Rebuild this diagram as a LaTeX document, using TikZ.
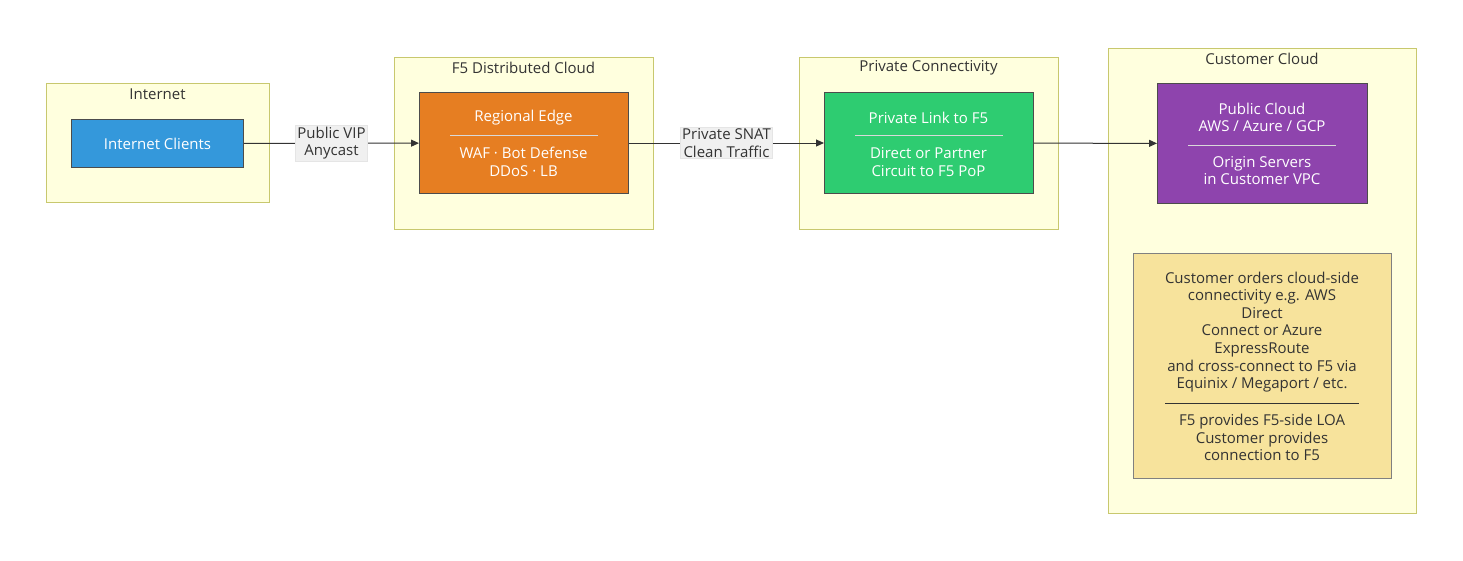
\documentclass[tikz,border=0pt]{standalone}
\usepackage{fontspec}
\setmainfont{Open Sans}
\usetikzlibrary{arrows.meta}

\definecolor{clusterfill}{HTML}{FFFFDE}
\definecolor{clusterline}{HTML}{C8C86E}
\definecolor{inkgray}{HTML}{333333}
\definecolor{clientblue}{HTML}{3498DB}
\definecolor{edgeorange}{HTML}{E67E22}
\definecolor{linkgreen}{HTML}{2ECC71}
\definecolor{cloudpurple}{HTML}{8E44AD}
\definecolor{notegold}{HTML}{F7E39C}

\tikzset{
	cluster/.style = {draw = clusterline, fill = clusterfill, line width = 1.2pt, anchor = north west, inner sep = 0pt},
	title/.style = {text = inkgray, inner sep = 0pt},
	box/.style = {draw = black!70, line width = 1pt, anchor = north west, inner sep = 0pt, text = white, align = center},
	boxtext/.style = {text = white, inner sep = 0pt, align = center},
	sepline/.style = {draw = white!85!black, line width = 1pt},
	flow/.style = {draw = inkgray, line width = 1pt, -{Triangle[length = 8pt, width = 7pt]}},
	elabel/.style = {fill = black!6, draw = black!10, text = inkgray, align = center, inner sep = 1.5pt}
}

\begin{document}
\begin{tikzpicture}[x = 1pt, y = -1pt, font = \fontsize{15pt}{17.6pt}\selectfont]
	\useasboundingbox (0,0) rectangle (1463,560);

	% clusters
	\node[cluster, minimum width = 223pt, minimum height = 119pt] (inet) at (46,83) {};
	\node[title] (inettitle) at (157.5,94) {Internet};
	\node[cluster, minimum width = 259pt, minimum height = 172pt] (f5dc) at (394,57) {};
	\node[title] (f5dctitle) at (523.5,68) {F5 Distributed Cloud};
	\node[cluster, minimum width = 259pt, minimum height = 172pt] (privconn) at (799,57) {};
	\node[title] (privconntitle) at (928.5,68) {Private Connectivity};
	\node[cluster, minimum width = 308pt, minimum height = 465pt] (custcloud) at (1108,48) {};
	\node[title] (custcloudtitle) at (1262,59) {Customer Cloud};

	% nodes
	\node[box, fill = clientblue, minimum width = 172pt, minimum height = 48pt] (clients) at (71,119) {Internet Clients};

	\node[box, fill = edgeorange, minimum width = 209pt, minimum height = 101pt] (edge) at (419,92) {};
	\node[boxtext] (edgetop) at (523.5,118) {Regional Edge};
	\draw[sepline] (450,135) -- (598,135);
	\node[boxtext] (edgebot) at (523.5,162) {WAF · Bot Defense\\DDoS · LB};

	\node[box, fill = linkgreen, minimum width = 209pt, minimum height = 101pt] (privlink) at (824,92) {};
	\node[boxtext] (privlinktop) at (928.5,118) {Private Link to F5};
	\draw[sepline] (855,135) -- (1003,135);
	\node[boxtext] (privlinkbot) at (928.5,162) {Direct or Partner\\Circuit to F5 PoP};

	\node[box, fill = cloudpurple, minimum width = 210pt, minimum height = 120pt] (pubcloud) at (1157,83) {};
	\node[boxtext] (pubcloudtop) at (1262,117.5) {Public Cloud\\AWS / Azure / GCP};
	\draw[sepline] (1188,145) -- (1336,145);
	\node[boxtext] (pubcloudbot) at (1262,170.5) {Origin Servers\\in Customer VPC};

	\node[box, draw = black!50, fill = notegold, text = inkgray, minimum width = 258pt, minimum height = 225pt] (note) at (1133,253) {};
	\node[boxtext, text = inkgray] (notetop) at (1262,332) {Customer orders cloud-side\\connectivity e.g. AWS\\Direct\\Connect or Azure\\ExpressRoute\\and cross-connect to F5 via\\Equinix / Megaport / etc.};
	\draw[draw = inkgray, line width = 1pt] (1165,403) -- (1359,403);
	\node[boxtext, text = inkgray] (notebot) at (1262,437.5) {F5 provides F5-side LOA\\Customer provides\\connection to F5};

	% connectors
	\draw[flow] (clients) -- (edge) node[midway, elabel] (vip) {Public VIP\\Anycast};
	\draw[flow] (edge) -- (privlink) node[midway, elabel] (snat) {Private SNAT\\Clean Traffic};
	\draw[flow] (privlink) -- (pubcloud);
\end{tikzpicture}
\end{document}
